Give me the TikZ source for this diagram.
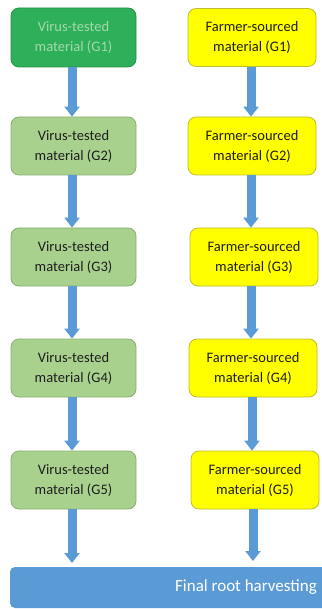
\documentclass[tikz,border=0pt]{standalone}
\usepackage{fontspec}
\setmainfont{Carlito}
\usetikzlibrary{arrows.meta}
\definecolor{darkgreen}{HTML}{2EAF5A}
\definecolor{darkgreenline}{HTML}{239248}
\definecolor{palegreentext}{HTML}{A6D8AE}
\definecolor{lightgreen}{HTML}{A9D18E}
\definecolor{lightgreenline}{HTML}{86AE70}
\definecolor{yellowfill}{HTML}{FFFF00}
\definecolor{yellowline}{HTML}{BDBD30}
\definecolor{arrowblue}{HTML}{5B9BD5}
\definecolor{textdark}{HTML}{1E1E1E}
\tikzset{
  box/.style={rounded corners=8pt, line width=0.8pt, inner sep=0pt,
    align=center, font=\fontsize{14.5}{20}\selectfont, text=textdark},
  vbox/.style={box, fill=lightgreen, draw=lightgreenline, minimum width=125pt, minimum height=58pt},
  vfirst/.style={box, fill=darkgreen, draw=darkgreenline, text=palegreentext, minimum width=125pt, minimum height=59pt},
  fbox/.style={box, fill=yellowfill, draw=yellowline, minimum width=128pt, minimum height=58pt},
  bigarrow/.style={draw=arrowblue, line width=9pt, -{Triangle[width=15pt,length=10pt]}},
  finalbar/.style={fill=arrowblue, rounded corners=5pt},
}
\begin{document}
\begin{tikzpicture}[x=1pt,y=-1pt]
\useasboundingbox (0,0) rectangle (321,609);
% left column
\node[vfirst] (v1) at (73.5,37.5) {Virus-tested\\material (G1)};
\node[vbox] (v2) at (73.5,146) {Virus-tested\\material (G2)};
\node[vbox] (v3) at (73.5,257) {Virus-tested\\material (G3)};
\node[vbox] (v4) at (73.5,368) {Virus-tested\\material (G4)};
\node[vbox] (v5) at (73.5,480) {Virus-tested\\material (G5)};
% right column
\node[fbox] (f1) at (252,37.5) {Farmer-sourced\\material (G1)};
\node[fbox] (f2) at (252,146) {Farmer-sourced\\material (G2)};
\node[fbox] (f3) at (254,257) {Farmer-sourced\\material (G3)};
\node[fbox] (f4) at (253,368) {Farmer-sourced\\material (G4)};
\node[fbox] (f5) at (255,480) {Farmer-sourced\\material (G5)};
% final bar
\path[finalbar] (10,567) rectangle (330,608);
\node[anchor=east, text=white, font=\fontsize{17}{20}\selectfont, inner sep=0pt] (final) at (317,587) {Final root harvesting};
\coordinate (barl) at (72,563);
\coordinate (barr) at (253,561);
% arrows
\draw[bigarrow] (v1.south -| 72,0) -- (v2.north -| 72,0);
\draw[bigarrow] (v2.south -| 72,0) -- (v3.north -| 72,0);
\draw[bigarrow] (v3.south -| 72,0) -- (v4.north -| 72,0);
\draw[bigarrow] (v4.south -| 72,0) -- (v5.north -| 72,0);
\draw[bigarrow] (v5.south -| 72,0) -- (barl);
\draw[bigarrow] (f1.south -| 251,0) -- (f2.north -| 251,0);
\draw[bigarrow] (f2.south -| 251,0) -- (f3.north -| 251,0);
\draw[bigarrow] (f3.south -| 251,0) -- (f4.north -| 251,0);
\draw[bigarrow] (f4.south -| 252,0) -- (f5.north -| 252,0);
\draw[bigarrow] (f5.south -| 253,0) -- (barr);
\end{tikzpicture}
\end{document}
